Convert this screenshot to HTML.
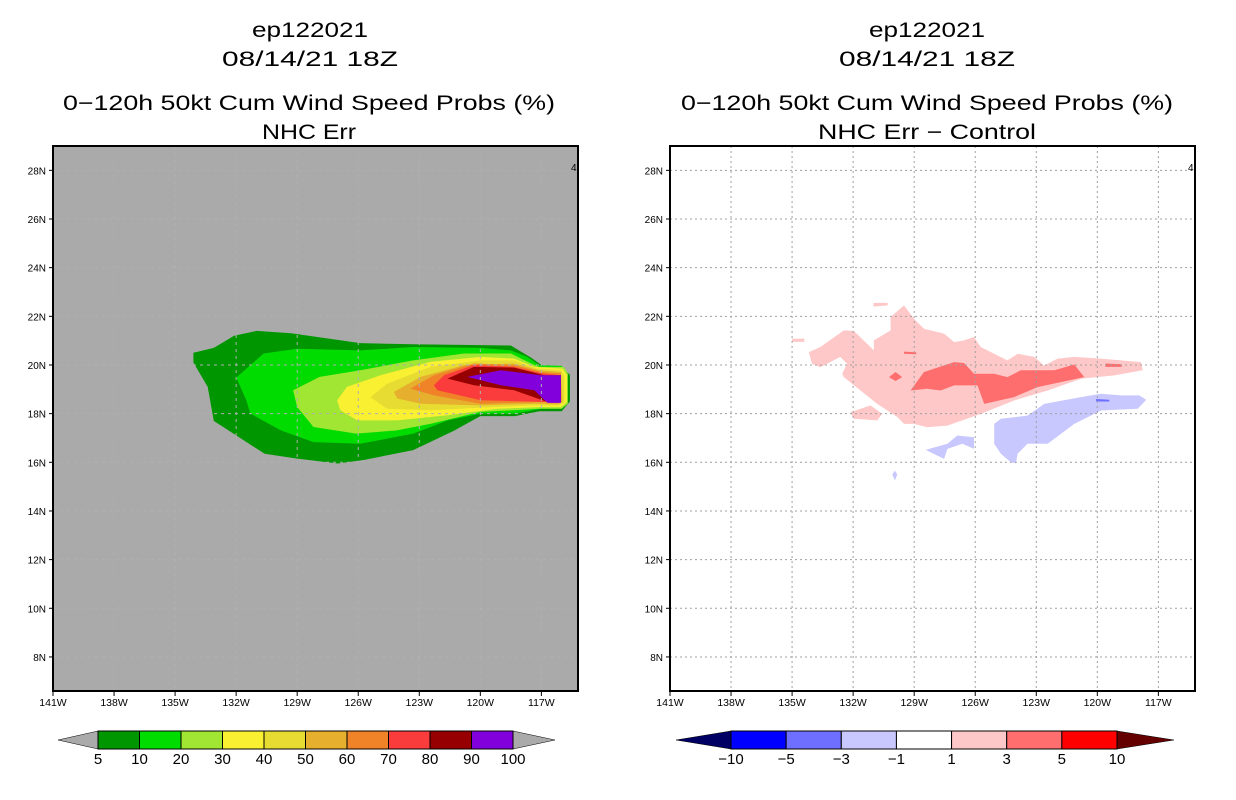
<!DOCTYPE html>
<html><head><meta charset="utf-8"><style>
html,body{margin:0;padding:0;background:#fff;}
svg{display:block;}
text{font-family:"Liberation Sans",sans-serif;}
</style></head><body>
<svg id="chart" width="1236" height="800" viewBox="0 0 1236 800" xmlns="http://www.w3.org/2000/svg">
<g font-size="21" text-anchor="middle" fill="#000">
<text x="310" y="37" textLength="116" lengthAdjust="spacingAndGlyphs">ep122021</text>
<text x="310" y="66" textLength="176" lengthAdjust="spacingAndGlyphs">08/14/21 18Z</text>
<text x="309" y="110" textLength="492" lengthAdjust="spacingAndGlyphs">0−120h 50kt Cum Wind Speed Probs (%)</text>
<text x="309" y="139" textLength="94" lengthAdjust="spacingAndGlyphs">NHC Err</text>
</g>
<g font-size="21" text-anchor="middle" fill="#000">
<text x="927" y="37" textLength="116" lengthAdjust="spacingAndGlyphs">ep122021</text>
<text x="927" y="66" textLength="176" lengthAdjust="spacingAndGlyphs">08/14/21 18Z</text>
<text x="927" y="110" textLength="492" lengthAdjust="spacingAndGlyphs">0−120h 50kt Cum Wind Speed Probs (%)</text>
<text x="927" y="139" textLength="218" lengthAdjust="spacingAndGlyphs">NHC Err − Control</text>
</g>
<g id="left"></g>
<g id="right"></g>
<g id="lcb"></g>
<g id="rcb"></g>
</svg>
<script>
// ---- data ----
const lonTicks = [141,138,135,132,129,126,123,120,117];
const latTicks = [28,26,24,22,20,18,16,14,12,10,8];
const probLevels = ["5","10","20","30","40","50","60","70","80","90","100"];
const probColors = ["#009600","#00dc00","#a0e632","#faf032","#e6dc32","#e6af2d","#f08228","#fa3c3c","#960000","#8200dc"];
const diffLevels = ["−10","−5","−3","−1","1","3","5","10"];
const diffColors = ["#0000ff","#6e6eff","#c8c8ff","#ffffff","#ffc8c8","#ff6e6e","#ff0000"];
// contour polygons [lonW, latN]
const prob5 = [[134.1,20.5],[133.1,20.7],[132.1,21.2],[131.0,21.4],[129.3,21.3],[125.9,20.9],[123.3,20.85],[118.5,20.8],[117.5,20.3],[117.0,20.0],[116.0,19.9],[115.6,19.6],[115.6,18.5],[116.0,18.1],[117.1,18.1],[118.3,17.9],[120.0,17.9],[121.3,17.3],[123.3,16.5],[125.7,16.1],[127.0,15.95],[129.0,16.15],[130.6,16.35],[131.8,17.0],[133.1,17.7],[133.4,19.1],[134.1,20.1]];
const prob10 = [[131.97,19.5],[130.65,20.47],[129.0,20.67],[125.9,20.6],[123.3,20.74],[120.0,20.7],[118.5,20.6],[117.7,20.33],[117.1,20.0],[116.0,19.96],[115.7,19.65],[115.7,18.48],[116.0,18.2],[117.0,18.2],[118.3,18.0],[120.0,18.0],[121.6,17.72],[123.3,17.18],[125.9,16.76],[128.2,16.83],[129.8,17.31],[131.3,18.0],[131.5,18.55],[131.97,19.44]];
const prob20 = [[129.2,18.96],[127.9,19.51],[125.9,19.78],[123.3,20.19],[120.8,20.47],[118.5,20.47],[117.5,20.06],[117.1,19.92],[115.9,19.92],[115.7,19.65],[115.7,18.41],[116.0,18.2],[117.1,18.2],[118.3,18.14],[120.0,18.07],[122.4,17.59],[124.1,17.31],[126.1,17.18],[128.2,17.45],[129.0,18.27]];
const prob30 = [[127.04,18.55],[126.55,19.1],[124.9,19.58],[122.44,20.13],[119.98,20.33],[118.34,20.26],[117.35,19.92],[115.96,19.85],[115.74,19.58],[115.74,18.48],[116.04,18.27],[117.1,18.27],[119.16,18.2],[121.62,17.93],[124.08,17.72],[126.05,17.72],[126.88,18.14]];
const prob40 = [[125.4,18.68],[124.58,19.23],[122.44,19.92],[119.98,20.19],[118.34,20.19],[117.19,19.85],[116.04,19.78],[115.87,19.51],[115.87,18.48],[116.12,18.34],[117.19,18.34],[119.98,18.25],[122.44,18.14],[124.58,18.2]];
const prob50 = [[124.25,18.89],[122.93,19.51],[120.8,20.0],[118.34,20.06],[117.1,19.78],[116.04,19.71],[115.96,18.48],[116.2,18.38],[117.19,18.41],[119.98,18.34],[122.93,18.41],[124.08,18.62]];
const prob60 = [[123.43,19.03],[122.28,19.58],[120.31,20.06],[118.34,20.0],[117.02,19.71],[116.04,19.65],[116.04,18.48],[117.02,18.48],[119.98,18.41],[122.28,18.75]];
const prob70 = [[122.28,19.17],[121.78,19.58],[120.31,20.0],[118.34,19.92],[116.94,19.65],[116.04,19.58],[116.04,18.48],[116.7,18.48],[119.98,18.55],[122.11,18.96]];
const prob80 = [[121.62,19.44],[120.31,19.92],[118.34,19.89],[116.86,19.58],[116.04,19.58],[116.04,18.48],[116.7,18.48],[118.34,18.96],[120.31,19.17]];
const prob90 = [[120.64,19.51],[118.99,19.78],[117.02,19.58],[116.04,19.58],[116.04,18.44],[116.7,18.44],[117.35,18.96],[118.99,19.17]];
const probPolys = [prob5,prob10,prob20,prob30,prob40,prob50,prob60,prob70,prob80,prob90];

const diffPink = [[134.18,20.53],[133.61,20.74],[132.46,21.42],[131.97,21.4],[130.98,20.6],[130.98,21.01],[130.16,21.42],[130.16,21.97],[129.5,22.45],[129.01,21.9],[128.52,21.49],[127.53,21.29],[127.04,20.94],[126.55,21.01],[126.06,21.15],[125.73,20.74],[124.42,20.19],[123.92,20.46],[123.1,20.33],[122.61,19.98],[121.95,20.26],[121.13,20.33],[119.82,20.26],[117.85,20.12],[117.77,19.78],[119.16,19.57],[120.8,19.43],[122.44,18.95],[124.09,18.54],[125.73,17.99],[127.37,17.51],[128.36,17.44],[129.01,17.58],[129.5,17.58],[129.83,17.86],[130.82,18.4],[131.64,18.95],[132.46,19.5],[132.54,19.64],[132.3,20.05],[132.63,20.33],[133.61,19.91],[134.02,20.05]];
const diffPink2 = [[132.13,18.06],[131.15,18.34],[130.57,17.99],[130.82,17.72],[131.97,17.79]];
const diffPink3 = [[131.0,22.4],[130.3,22.45],[130.3,22.55],[131.0,22.55]];
const diffPink4 = [[135.0,20.95],[134.4,20.95],[134.4,21.08],[135.0,21.08]];
const diffRed = [[129.18,18.95],[128.52,19.71],[127.04,20.12],[126.55,20.08],[126.06,19.64],[125.07,19.64],[124.42,19.5],[123.76,19.78],[123.1,19.78],[122.11,19.78],[121.13,20.02],[120.64,19.5],[122.94,19.09],[124.09,18.68],[125.56,18.4],[125.89,19.16],[127.04,19.16],[127.7,18.95],[128.36,19.02]];
const diffRed2 = [[130.24,19.5],[129.92,19.71],[129.59,19.5],[129.92,19.34]];
const diffRed3 = [[129.5,20.55],[128.9,20.52],[128.9,20.44],[129.5,20.46]];
const diffRed4 = [[119.6,20.06],[118.8,20.03],[118.8,19.92],[119.6,19.92]];
const diffBlue = [[125.07,17.58],[124.74,17.79],[123.43,17.92],[122.61,18.4],[120.8,18.68],[119.82,18.82],[118.83,18.75],[117.93,18.75],[117.6,18.57],[118.01,18.2],[119.82,18.13],[121.13,17.58],[122.44,16.76],[123.43,16.76],[123.92,16.35],[124.0,15.96],[124.25,16.0],[124.74,16.35],[125.07,16.76]];
const diffBlue2 = [[128.44,16.51],[127.37,16.76],[126.88,17.1],[126.06,17.03],[126.06,16.55],[126.63,16.76],[127.37,16.55],[127.53,16.14]];
const diffBlue3 = [[130.08,15.5],[129.95,15.66],[129.83,15.5],[129.95,15.25]];
const diffBlue4 = [[120.06,18.6],[119.41,18.57],[119.41,18.5],[120.06,18.5]];
const diffPolys = [diffPink,diffPink2,diffPink3,diffPink4,diffRed,diffRed2,diffRed3,diffRed4,diffBlue,diffBlue2,diffBlue3,diffBlue4];
const diffPolyColors = ["#ffc8c8","#ffc8c8","#ffc8c8","#ffc8c8","#ff6e6e","#ff6e6e","#ff6e6e","#ff6e6e","#c8c8ff","#c8c8ff","#c8c8ff","#6e6eff"];

// ---- axes ----
const NS = "http://www.w3.org/2000/svg";
const W0 = 141, W1 = 115.2, N0 = 29, N1 = 6.6;
const PW = 525, PH = 545, PT = 146;
function mk(tag, attrs, parent){ const e=document.createElementNS(NS,tag); for(const k in attrs) e.setAttribute(k,attrs[k]); parent.appendChild(e); return e; }
function panel(gid, left, bg, gridColor, gridDash, polys, colors){
  const g = document.getElementById(gid);
  const xs = lon => left + (W0 - lon) / (W0 - W1) * PW;
  const ys = lat => PT + (N0 - lat) / (N0 - N1) * PH;
  const bgr = mk('rect',{x:left,y:PT,width:PW,height:PH,fill:bg},g);
  
  
  polys.forEach((p,i)=>{
    const pl = mk('polygon',{points:p.map(q=>xs(q[0]).toFixed(1)+','+ys(q[1]).toFixed(1)).join(' '),fill:colors[i]},g);
    
    
  });
  lonTicks.forEach(l=>{
    const x = xs(l);
    if(l!==141){
      const gl = mk('line',{x1:x,y1:PT,x2:x,y2:PT+PH,stroke:gridColor,'stroke-width':1,'stroke-dasharray':gridDash},g);
      
      
    }
    mk('line',{x1:x,y1:PT+PH,x2:x,y2:PT+PH+5,stroke:'#000','stroke-width':1},g);
    const t = mk('text',{x:x,y:PT+PH+15,'font-size':10.5,'text-anchor':'middle'},g);
    t.textContent = l+'W';
    
    
  });
  latTicks.forEach(l=>{
    const y = ys(l);
    const gl = mk('line',{x1:left,y1:y,x2:left+PW,y2:y,stroke:gridColor,'stroke-width':1,'stroke-dasharray':gridDash},g);
    
    
    mk('line',{x1:left-4,y1:y,x2:left,y2:y,stroke:'#000','stroke-width':1},g);
    const t = mk('text',{x:left-7,y:y+4,'font-size':10,'text-anchor':'end'},g);
    t.textContent = l+'N';
    
    
  });
  const fr = mk('rect',{x:left,y:PT,width:PW,height:PH,fill:'none',stroke:'#000','stroke-width':2},g);
  
  
  const m = mk('text',{x:left+PW-7,y:PT+25,'font-size':10},g);
  m.textContent='4';
  
  
}
panel('left',53,'#aaaaaa','#b0b0b0','3,4',probPolys,probColors);
panel('right',670,'#ffffff','#a0a0a0','2,3',diffPolys,diffPolyColors);

function colorbar(gid, x0, x1, tl, tr, colors, labels, lcol, rcol){
  const g = document.getElementById(gid);
  const y0 = 731, h = 18, n = colors.length, bw = (x1-x0)/n;
  const a = mk('polygon',{points:`${tl},${y0+h/2} ${x0},${y0} ${x0},${y0+h}`,fill:lcol,stroke:'#000','stroke-width':0.5},g);
  
  
  const b = mk('polygon',{points:`${tr},${y0+h/2} ${x1},${y0} ${x1},${y0+h}`,fill:rcol,stroke:'#000','stroke-width':0.5},g);
  
  
  colors.forEach((c,i)=>{
    const r = mk('rect',{x:x0+i*bw,y:y0,width:bw,height:h,fill:c,stroke:'#000','stroke-width':1},g);
    
    
  });
  labels.forEach((l,i)=>{
    const t = mk('text',{x:x0+i*bw,y:y0+h+15,'font-size':15,'text-anchor':'middle'},g);
    t.textContent = l;
    
    
  });
}
colorbar('lcb',98,513,58,555,probColors,probLevels,'#aaaaaa','#aaaaaa');
colorbar('rcb',731,1117,676,1174,diffColors,diffLevels,'#000064','#640000');
</script>
</body></html>
